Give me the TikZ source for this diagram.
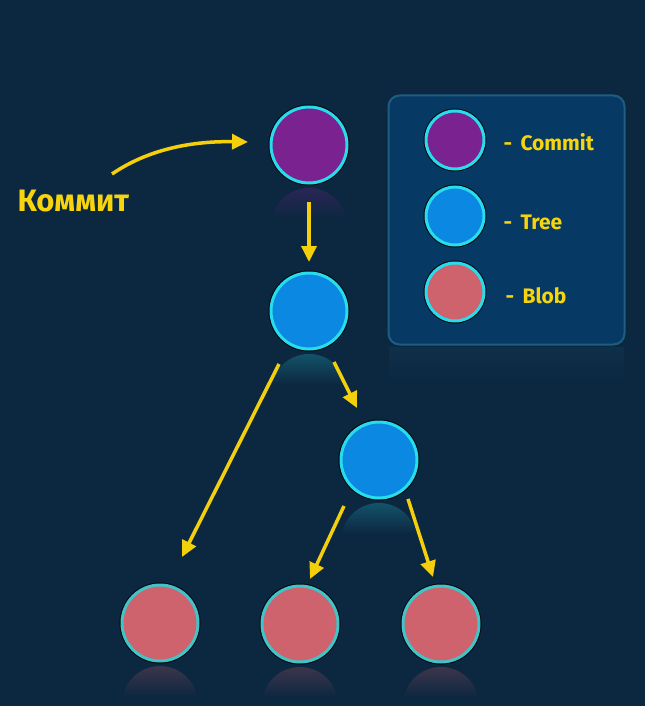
\documentclass[tikz,border=0pt]{standalone}
\usepackage{fontspec}
\setmainfont{Fira Sans}
\usetikzlibrary{arrows.meta}
\definecolor{bg}{HTML}{0C2740}
\definecolor{boxfill}{HTML}{063A64}
\definecolor{boxline}{HTML}{1D5E82}
\definecolor{cyanring}{HTML}{28DCEC}
\definecolor{tealring}{HTML}{40C4C8}
\definecolor{commitc}{HTML}{7A2390}
\definecolor{treec}{HTML}{0A88E2}
\definecolor{blobc}{HTML}{CF636D}
\definecolor{arrowc}{HTML}{F4CF0C}
\definecolor{txtc}{HTML}{F6D40E}
\newcommand\myrefl[4]{%
  \begin{scope}
    \clip (#1,#2+2*#3+5) circle[radius=#3];
    \shade[top color=#4, bottom color=bg] (#1-#3-2,#2+#3+4) rectangle (#1+#3+2,#2+#3+36);
  \end{scope}}
\begin{document}
\begin{tikzpicture}[x=1pt,y=-1pt,
  ball/.style={circle, minimum size=76pt, inner sep=0pt, line width=3pt,
    preaction={draw=black!80!bg, line width=5pt}},
  lball/.style={circle, minimum size=58pt, inner sep=0pt, line width=3pt, draw=cyanring,
    preaction={draw=black!80!bg, line width=5pt}},
  commitball/.style={ball, fill=commitc, draw=cyanring},
  treeball/.style={ball, fill=treec, draw=cyanring},
  blobball/.style={ball, fill=blobc, draw=tealring, preaction={}},
  yarrow/.style={draw=arrowc, line width=3.5pt, -{Triangle[length=16pt,width=15pt]}},
  legtext/.style={text=txtc, font=\bfseries\fontsize{21}{24}\selectfont, anchor=west},
  ]
\fill[bg] (0,0) rectangle (645,706);
\useasboundingbox (0,0) rectangle (645,706);

% reflections
\myrefl{309}{145}{38}{bg!72!commitc}
\myrefl{309}{311}{38}{bg!75!cyanring}
\myrefl{379}{460}{38}{bg!75!cyanring}
\myrefl{160}{623}{38}{bg!75!blobc}
\myrefl{300}{624}{38}{bg!75!blobc}
\myrefl{441}{624}{38}{bg!75!blobc}
\begin{scope}
  \clip (389,347) rectangle (624,385);
  \shade[top color=bg!85!boxline, bottom color=bg] (389,347) rectangle (624,385);
\end{scope}

% legend box
\node (legend) [draw=boxline, line width=2pt, fill=boxfill, rounded corners=11pt,
  minimum width=236pt, minimum height=249pt, inner sep=0pt] at (506.5,220) {};
\node (lcommit) [lball, fill=commitc] at (455,140) {};
\node (ltree) [lball, fill=treec] at (455,216) {};
\node (lblob) [lball, fill=blobc] at (455,292) {};
\node (tcommit) [legtext] at (500,142) {-\, Commit};
\node (ttree) [legtext] at (500,222) {-\, Tree};
\node (tblob) [legtext] at (502,296) {-\, Blob};

% main nodes
\node (commit) [commitball] at (309,145) {};
\node (tree1) [treeball] at (309,311) {};
\node (tree2) [treeball] at (379,460) {};
\node (blob1) [blobball] at (160,623) {};
\node (blob2) [blobball] at (300,624) {};
\node (blob3) [blobball] at (441,624) {};

\node (label) [text=txtc, font=\bfseries\fontsize{31}{34}\selectfont, anchor=west] at (14,201) {Коммит};
\coordinate (cstart) at (112,174);

% arrows
\draw[yarrow] (cstart) .. controls (150,148) and (195,141) .. ([shift={(-61,-3)}]commit.center);
\draw[yarrow] ([shift={(0,57)}]commit.center) -- ([shift={(0,-49)}]tree1.center);
\draw[yarrow] ([shift={(-30,53)}]tree1.center) -- ([shift={(22,-66)}]blob1.center);
\draw[yarrow] ([shift={(25,51)}]tree1.center) -- ([shift={(-22,-52)}]tree2.center);
\draw[yarrow] ([shift={(-35,46)}]tree2.center) -- ([shift={(10,-45)}]blob2.center);
\draw[yarrow] ([shift={(29,39)}]tree2.center) -- ([shift={(-8,-47)}]blob3.center);
\end{tikzpicture}
\end{document}
